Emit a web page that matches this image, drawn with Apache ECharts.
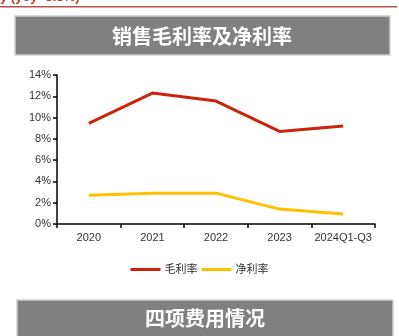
<!DOCTYPE html>
<html><head><meta charset="utf-8">
<script src="https://cdn.jsdelivr.net/npm/echarts@6/dist/echarts.min.js"></script>
<style>html,body{margin:0;padding:0;background:#fff}#c{width:399px;height:336px}</style>
</head><body><div id="c"></div>
<script>
const categories = ['2020', '2021', '2022', '2023', '2024Q1-Q3'];
const grossMargin = [9.45, 12.3, 11.55, 8.7, 9.2];
const netMargin = [2.7, 2.9, 2.9, 1.4, 0.95];
const yTicks = [0, 2, 4, 6, 8, 10, 12, 14];
const titleTop = '销售毛利率及净利率';
const titleBottom = '四项费用情况';
const topText = 'y (yoy -3.8%)';

const chart = echarts.init(document.getElementById('c'), null, {renderer: 'canvas'});
chart.setOption({
  animation: false,
  textStyle: {fontFamily: 'Arial, "Liberation Sans", "Noto Sans CJK SC", sans-serif'},
  graphic: [
    {type: 'text', left: 0, top: -9, style: {text: topText, fill: '#c0392b', font: 'bold 13px "Liberation Sans", Arial, sans-serif'}},
    {type: 'rect', shape: {x: 0, y: 6, width: 397, height: 1.5}, style: {fill: '#c0504d'}},
    {type: 'rect', shape: {x: 15, y: 16, width: 375, height: 39}, style: {fill: '#808080', stroke: '#cfcfcf', lineWidth: 1.5}},
    {type: 'text', x: 202, y: 36, style: {text: titleTop, fill: '#fff', font: 'bold 20px "Noto Sans CJK SC", sans-serif', align: 'center', verticalAlign: 'middle'}},
    {type: 'rect', shape: {x: 17, y: 300, width: 376, height: 40}, style: {fill: '#808080', stroke: '#cfcfcf', lineWidth: 1.5}},
    {type: 'text', x: 205, y: 318, style: {text: titleBottom, fill: '#fff', font: 'bold 20px "Noto Sans CJK SC", sans-serif', align: 'center', verticalAlign: 'middle'}}
  ],
  grid: {left: 57, right: 24, top: 75, bottom: 112, containLabel: false},
  legend: {
    top: 259, left: 'center',
    itemWidth: 30, itemHeight: 3, itemGap: 4,
    icon: 'rect',
    textStyle: {fontSize: 11, color: '#333', padding: [0, 0, 0, -1]},
    data: ['毛利率', '净利率']
  },
  xAxis: {
    type: 'category', data: categories, boundaryGap: true,
    axisLine: {lineStyle: {color: '#000', width: 1.5}},
    axisTick: {show: true, inside: false, length: 4, interval: 0, lineStyle: {color: '#000', width: 1.5}},
    axisLabel: {color: '#333', fontSize: 11, margin: 8, interval: 0, hideOverlap: false}
  },
  yAxis: {
    type: 'value', min: 0, max: 14, interval: 2,
    axisLine: {show: true, lineStyle: {color: '#000', width: 1.5}},
    axisTick: {show: true, length: 4, lineStyle: {color: '#000', width: 1.5}},
    splitLine: {show: false},
    axisLabel: {color: '#333', fontSize: 11, margin: 6, formatter: v => v + '%'}
  },
  series: [
    {name: '毛利率', type: 'line', data: grossMargin, symbol: 'none', lineStyle: {color: '#c8250c', width: 3}, itemStyle: {color: '#c8250c'}},
    {name: '净利率', type: 'line', data: netMargin, symbol: 'none', lineStyle: {color: '#ffc000', width: 3}, itemStyle: {color: '#ffc000'}}
  ]
});
</script></body></html>
